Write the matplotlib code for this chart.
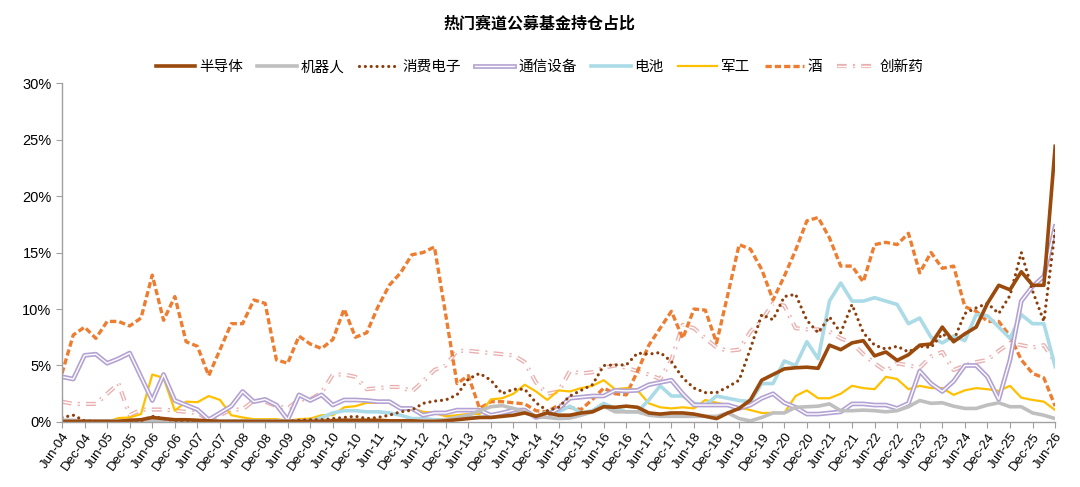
import numpy as np
import matplotlib
matplotlib.use("Agg")
import matplotlib.pyplot as plt
import matplotlib.patheffects as pe

plt.rcParams['font.family'] = ['Liberation Sans', 'Noto Sans CJK SC', 'DejaVu Sans']
plt.rcParams['lines.scale_dashes'] = False

# half-year tick labels, data is quarterly (Jun-04 .. Jun-26)
tick_labels = []
for yy in range(4, 27):
    tick_labels.append('Jun-%02d' % yy)
    if yy < 26:
        tick_labels.append('Dec-%02d' % yy)

# holdings share, %
semis = [0.05, 0.05, 0.05, 0.05, 0.05, 0.05, 0.15, 0.2, 0.4, 0.3,
         0.2, 0.2, 0.15, 0.1, 0.05, 0.05, 0.05, 0.05, 0.05, 0.05,
         0.05, 0.05, 0.05, 0.05, 0.1, 0.15, 0.15, 0.15, 0.15, 0.1,
         0.1, 0.1, 0.05, 0.05, 0.1, 0.2, 0.3, 0.4, 0.4, 0.5,
         0.6, 0.8, 0.5, 0.8, 0.6, 0.6, 0.8, 0.9, 1.35, 1.3,
         1.4, 1.3, 0.8, 0.7, 0.8, 0.8, 0.7, 0.5, 0.3, 0.8,
         1.2, 1.95, 3.7, 4.2, 4.7, 4.8, 4.85, 4.75, 6.8, 6.4,
         7.0, 7.2, 5.85, 6.2, 5.45, 5.95, 6.8, 6.9, 8.4, 7.1,
         7.8, 8.4, 10.5, 12.1, 11.7, 13.3, 12.1, 12.1, 24.4]
robot = [0.15, 0.15, 0.1, 0.1, 0.1, 0.1, 0.1, 0.1, 0.1, 0.1,
         0.1, 0.1, 0.1, 0.1, 0.1, 0.1, 0.1, 0.1, 0.1, 0.1,
         0.1, 0.1, 0.1, 0.15, 0.15, 0.15, 0.1, 0.1, 0.1, 0.1,
         0.1, 0.1, 0.1, 0.1, 0.2, 0.4, 0.6, 1.0, 1.35, 1.45,
         1.2, 0.9, 0.5, 0.4, 0.3, 0.35, 0.6, 0.9, 1.4, 0.9,
         0.9, 0.9, 0.6, 0.5, 0.5, 0.5, 0.5, 0.5, 0.5, 0.8,
         0.3, 0.1, 0.4, 0.8, 0.8, 1.3, 1.35, 1.4, 1.6, 1.0,
         1.0, 1.05, 1.0, 0.9, 1.0, 1.35, 1.9, 1.65, 1.7, 1.4,
         1.2, 1.2, 1.5, 1.7, 1.35, 1.35, 0.8, 0.6, 0.3]
consumer_elec = [0.4, 0.6, 0.1, 0.05, 0.05, 0.05, 0.1, 0.1, 0.5, 0.3,
                 0.1, 0.1, 0.1, 0.1, 0.05, 0.05, 0.05, 0.05, 0.05, 0.05,
                 0.05, 0.15, 0.2, 0.2, 0.3, 0.4, 0.5, 0.3, 0.4, 0.6,
                 0.9, 1.05, 1.65, 1.85, 1.95, 2.4, 3.8, 4.3, 3.7, 2.5,
                 2.9, 2.9, 1.7, 1.0, 1.3, 2.3, 2.8, 3.3, 5.0, 5.05,
                 5.05, 6.1, 6.0, 6.15, 5.35, 3.9, 3.0, 2.6, 2.6, 3.1,
                 3.7, 6.5, 9.5, 9.05, 11.1, 11.3, 9.0, 7.9, 9.3, 7.9,
                 10.4, 7.9, 6.8, 6.45, 6.7, 6.2, 6.7, 6.6, 7.8, 7.2,
                 9.6, 10.1, 10.5, 9.6, 11.2, 15.0, 11.6, 8.9, 17.0]
telecom = [4.0, 3.8, 5.9, 6.0, 5.2, 5.6, 6.1, 4.0, 1.9, 4.2,
           1.9, 1.5, 1.1, 0.2, 0.8, 1.4, 2.7, 1.8, 2.0, 1.5,
           0.2, 2.4, 1.9, 2.4, 1.5, 1.95, 1.95, 1.9, 1.8, 1.8,
           1.2, 1.2, 0.6, 0.8, 0.8, 1.05, 1.05, 1.05, 0.6, 0.8,
           1.05, 1.05, 0.4, 0.6, 1.2, 2.1, 2.2, 2.3, 2.3, 2.8,
           2.75, 2.8, 3.3, 3.5, 3.7, 2.5, 1.5, 1.5, 1.5, 1.5,
           1.2, 1.5, 2.1, 2.5, 1.7, 1.3, 0.7, 0.7, 0.8, 0.9,
           1.6, 1.6, 1.5, 1.5, 1.2, 1.65, 4.5, 3.4, 2.7, 3.6,
           5.0, 5.0, 4.0, 2.0, 5.5, 10.7, 12.0, 12.9, 17.3]
battery = [0.05, 0.05, 0.05, 0.05, 0.05, 0.05, 0.05, 0.05, 0.05, 0.05,
           0.05, 0.05, 0.05, 0.05, 0.05, 0.05, 0.05, 0.05, 0.05, 0.05,
           0.05, 0.05, 0.05, 0.4, 0.8, 1.0, 1.0, 0.9, 0.9, 0.8,
           0.6, 0.3, 0.3, 0.2, 0.2, 0.4, 0.4, 0.4, 0.5, 0.5,
           1.05, 1.1, 0.4, 0.9, 0.9, 1.4, 0.8, 1.0, 1.65, 1.2,
           0.9, 0.9, 1.95, 3.2, 2.3, 2.3, 1.65, 1.5, 2.3, 2.1,
           1.9, 1.8, 3.4, 3.4, 5.4, 5.0, 7.1, 5.6, 10.7, 12.3,
           10.7, 10.7, 11.0, 10.7, 10.4, 8.7, 9.2, 7.5, 7.0, 7.6,
           7.2, 9.5, 9.4, 8.4, 7.4, 9.5, 8.7, 8.7, 4.9]
defense = [0.05, 0.0, 0.0, 0.0, 0.0, 0.35, 0.4, 0.7, 4.2, 3.9,
           1.0, 1.8, 1.75, 2.3, 1.95, 0.6, 0.4, 0.25, 0.25, 0.25,
           0.1, 0.25, 0.3, 0.6, 0.6, 1.3, 1.4, 1.7, 1.7, 1.7,
           1.25, 1.2, 0.9, 0.8, 0.5, 0.6, 0.7, 0.7, 2.0, 2.1,
           2.5, 3.3, 2.7, 1.95, 2.8, 2.7, 3.0, 3.2, 3.7, 2.9,
           3.0, 2.8, 1.65, 1.3, 1.2, 1.3, 1.2, 1.95, 1.7, 1.5,
           1.3, 1.05, 0.8, 0.8, 0.8, 2.3, 2.8, 2.1, 2.1, 2.5,
           3.2, 3.0, 2.9, 4.0, 3.8, 2.9, 3.2, 3.0, 3.0, 2.4,
           2.8, 3.0, 2.9, 2.75, 3.2, 2.15, 1.95, 1.8, 1.05]
liquor = [4.3, 7.7, 8.4, 7.4, 8.9, 8.9, 8.5, 9.2, 13.0, 9.0,
          11.1, 7.1, 6.7, 4.1, 6.4, 8.7, 8.7, 10.8, 10.5, 5.5,
          5.2, 7.6, 6.9, 6.5, 7.3, 10.0, 7.5, 7.9, 10.2, 12.1,
          13.2, 14.8, 15.0, 15.5, 9.5, 3.4, 4.1, 1.2, 1.8, 1.8,
          1.7, 1.6, 1.0, 0.9, 1.5, 1.3, 1.1, 2.0, 3.0, 2.5,
          2.4, 4.5, 6.8, 8.3, 9.8, 7.4, 10.0, 9.9, 7.0, 11.3,
          15.7, 15.3, 13.5, 10.8, 12.9, 15.2, 17.8, 18.1, 16.3, 13.8,
          13.8, 12.4, 15.7, 15.9, 15.7, 16.7, 13.2, 15.0, 13.6, 13.8,
          10.2, 9.8, 8.9, 8.9, 7.6, 5.5, 4.3, 3.9, 1.4]
innov_drug = [1.8, 1.6, 1.6, 1.6, 2.5, 3.4, 0.6, 1.1, 1.1, 1.1,
              1.0, 0.9, 0.8, 0.2, 0.6, 1.1, 1.1, 1.9, 1.8, 1.4,
              1.2, 2.0, 2.0, 2.6, 4.2, 4.2, 4.0, 2.9, 3.0, 3.1,
              3.1, 2.7, 3.6, 4.6, 5.0, 6.3, 6.3, 6.2, 6.1, 6.0,
              5.9, 5.3, 3.5, 2.5, 2.7, 4.5, 4.3, 4.4, 4.8, 5.0,
              4.8, 4.5, 4.2, 3.8, 5.5, 8.6, 8.3, 7.4, 6.6, 6.3,
              6.4, 8.0, 9.0, 10.5, 10.3, 8.3, 8.2, 8.2, 8.0, 7.4,
              7.0, 6.0, 5.2, 4.5, 5.2, 5.0, 4.8, 5.8, 6.2, 4.6,
              5.0, 5.3, 5.5, 6.3, 7.0, 6.8, 6.6, 6.8, 5.3]

x = np.arange(len(semis))

fig = plt.figure(figsize=(10.8, 4.87), dpi=100)
ax = fig.add_axes([0.0574, 0.1335, 0.9196, 0.696])

h_drug, = ax.plot(x, innov_drug, color='white', lw=1.0, linestyle=(0, (7, 4.5, 1.5, 4.5)),
                  path_effects=[pe.Stroke(linewidth=3.0, foreground='#eab0b0'), pe.Normal()],
                  label='创新药')
h_liq, = ax.plot(x, liquor, color='#ed7d31', lw=2.4, linestyle=(0, (4.5, 2.2)), label='酒')
h_def, = ax.plot(x, defense, color='#ffc000', lw=1.6, label='军工')
h_bat, = ax.plot(x, battery, color='#aadbe6', lw=2.6, label='电池')
h_tel, = ax.plot(x, telecom, color='white', lw=1.0,
                 path_effects=[pe.Stroke(linewidth=3.4, foreground='#b3a2d3'), pe.Normal()],
                 label='通信设备')
h_rob, = ax.plot(x, robot, color='#bfbfbf', lw=2.6, label='机器人')
h_ce, = ax.plot(x, consumer_elec, color='#8c3f0d', lw=2.3, linestyle=(0, (0.01, 4.2)),
                dash_capstyle='round', label='消费电子')
h_semi, = ax.plot(x, semis, color='#9a4a0c', lw=2.6, label='半导体')

ax.set_xlim(0, len(semis) - 1)
ax.set_ylim(0, 30)
ax.set_yticks(np.arange(0, 31, 5))
ax.set_yticklabels(['%d%%' % v for v in range(0, 31, 5)], fontsize=10.5)
ax.set_xticks(np.arange(0, len(semis), 2))
ax.set_xticklabels(tick_labels, rotation=55, ha='right', rotation_mode='anchor', fontsize=9.5)

for s in ['top', 'right']:
    ax.spines[s].set_visible(False)
for s in ['left', 'bottom']:
    ax.spines[s].set_color('#a0a0a0')
    ax.spines[s].set_linewidth(1.0)
ax.tick_params(axis='both', colors='#a0a0a0', labelcolor='black', length=4, width=0.8)
ax.tick_params(axis='x', pad=2)

handles = [h_semi, h_rob, h_ce, h_tel, h_bat, h_def, h_liq, h_drug]
fig.legend(handles=handles, labels=[h.get_label() for h in handles],
           loc='center', bbox_to_anchor=(0.5, 0.862), ncol=8, frameon=False,
           fontsize=10.5, handlelength=2.7, handletextpad=0.25, columnspacing=1.0)

fig.text(0.5, 0.952, '热门赛道公募基金持仓占比', ha='center', va='center',
         fontsize=11.5, fontweight='bold')

fig.savefig('out.png', dpi=100)
